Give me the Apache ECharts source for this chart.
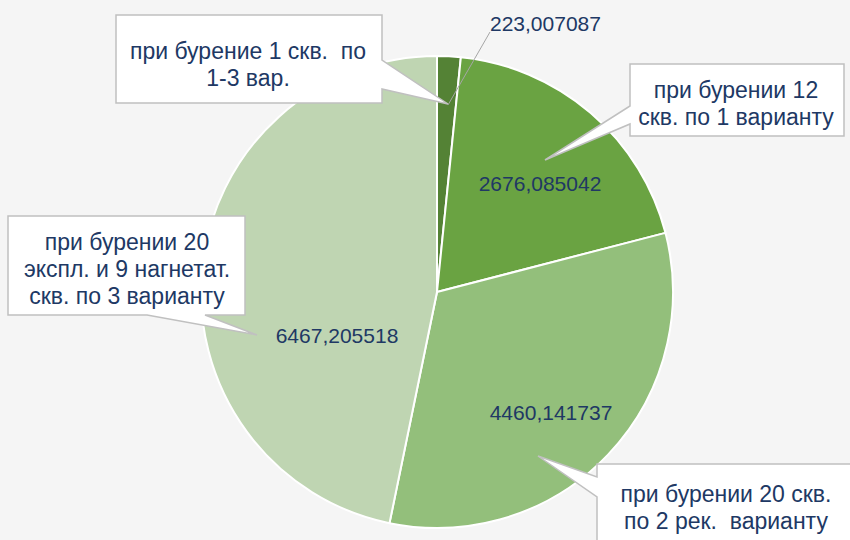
<!DOCTYPE html>
<html>
<head>
<meta charset="utf-8">
<script src="https://cdn.jsdelivr.net/npm/echarts@6/dist/echarts.min.js"></script>
<style>
html,body{margin:0;padding:0;background:#f5f5f5;}
#chart{width:850px;height:540px;}
</style>
</head>
<body>
<div id="chart"></div>
<script>
// ---- data ----
var categories = [
  'при бурение 1 скв.  по\n1-3 вар.',
  'при бурении 12\nскв. по 1 варианту',
  'при бурении 20 скв.\nпо 2 рек.  варианту',
  'при бурении 20\nэкспл. и 9 нагнетат.\nскв. по 3 варианту'
];
var values = [223.007087, 2676.085042, 4460.141737, 6467.205518];
var valueLabels = ['223,007087', '2676,085042', '4460,141737', '6467,205518'];

// ---- styling / layout ----
var colors = ['#548235', '#6aa342', '#93bf7b', '#bfd5b2'];
var textColor = '#203864';
var font = '"Liberation Sans", Arial, sans-serif';
// value label positions (pixel layout)
var valueLabelPos = [
  {x: 490, y: 23, align: 'left'},
  {x: 540, y: 183, align: 'center'},
  {x: 551, y: 412, align: 'center'},
  {x: 337, y: 335, align: 'center'}
];
var leaderLine = [[448, 105], [490, 32]];
// callout shapes (pixel layout), index matches categories
var callouts = [
  {poly: [[116,15],[382,15],[382,60],[448,104],[382,89],[382,103],[116,103]], tx: 248, ty: 64},
  {poly: [[630,64],[844,64],[844,136],[630,136],[630,124],[545,160],[630,106]], tx: 736, ty: 103},
  {poly: [[597,464],[862,464],[862,552],[597,552],[597,497],[538,456],[597,477]], tx: 726, ty: 507},
  {poly: [[8,216],[245,216],[245,315],[205,315],[257,335],[147,315],[8,315]], tx: 127, ty: 269}
];

var chart = echarts.init(document.getElementById('chart'), null, {renderer: 'svg'});

var graphics = [{
  type: 'polyline', z: 50, silent: true,
  shape: {points: leaderLine},
  style: {stroke: '#a6a6a6', lineWidth: 1, fill: null}
}];
callouts.forEach(function (c, i) {
  graphics.push({
    type: 'polygon', z: 100, silent: true, shape: {points: c.poly},
    style: {fill: '#ffffff', stroke: '#c0c0c0', lineWidth: 1.5}
  });
  graphics.push({
    type: 'text', z: 101, silent: true, x: c.tx, y: c.ty,
    style: {text: categories[i], fill: textColor, font: '23px ' + font,
            textAlign: 'center', textVerticalAlign: 'middle', lineHeight: 27}
  });
});

chart.setOption({
  backgroundColor: '#f5f5f5',
  animation: false,
  graphic: {elements: graphics},
  series: [{
    type: 'pie',
    z: 1,
    center: [437, 292],
    radius: 236,
    startAngle: 90,
    clockwise: true,
    avoidLabelOverlap: false,
    itemStyle: {borderColor: '#ffffff', borderWidth: 2},
    label: {
      show: true, position: 'inside',
      color: textColor, fontFamily: font, fontSize: 21,
      formatter: function (p) { return valueLabels[p.dataIndex]; }
    },
    labelLine: {show: false},
    labelLayout: function (params) {
      var p = valueLabelPos[params.dataIndex];
      return {x: p.x, y: p.y, align: p.align, verticalAlign: 'middle'};
    },
    data: values.map(function (v, i) {
      return {value: v, name: categories[i], itemStyle: {color: colors[i]}};
    })
  }]
});
</script>
</body>
</html>
